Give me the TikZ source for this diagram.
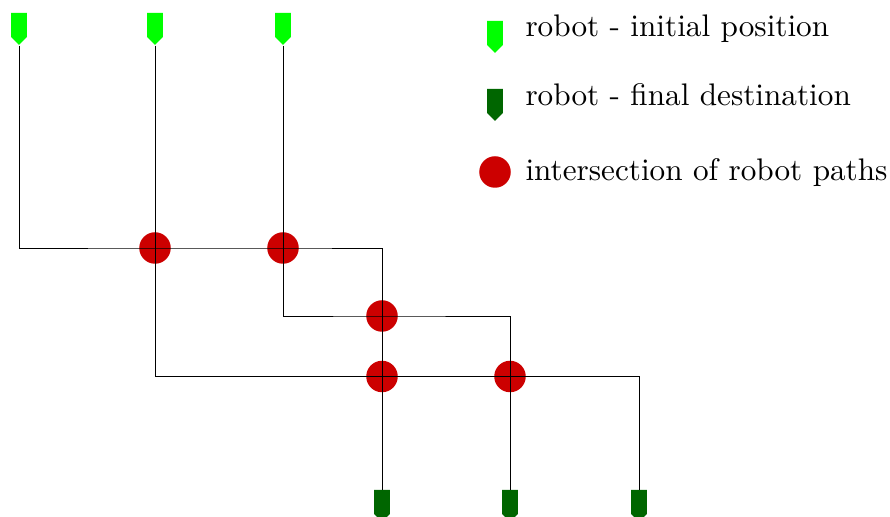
\documentclass[tikz,border=0pt]{standalone}
\usetikzlibrary{positioning,shapes.symbols}

\begin{document}
\begin{tikzpicture}[
x=0.3333pt, y=-0.3333pt,
robotnode/.style={signal, signal to=south, signal pointer angle=90, inner sep=0pt, minimum width=5.3pt, minimum height=8pt},
startnode/.style={robotnode, fill={rgb,255:red,0;green,255;blue,0}},
goalnode/.style={robotnode, fill={rgb,255:red,0;green,102;blue,0}},
crossnode/.style={circle, inner sep=0pt, minimum size=10.5pt, fill={rgb,255:red,204;green,0;blue,0}},
legendtext/.style={anchor=base west, inner sep=0pt, scale=1.04},
line width=0.32pt]
\useasboundingbox (0,0) rectangle (890,517);
% Nodes
\node[startnode] (s1) at (19,25) {};
\node[startnode] (s2) at (155,25) {};
\node[startnode] (s3) at (283,25) {};
\node[goalnode] (g1) at (382,502) {};
\node[goalnode] (g2) at (510,502) {};
\node[goalnode] (g3) at (639,502) {};
\node[crossnode] (c1) at (155,248) {};
\node[crossnode] (c2) at (283,248) {};
\node[crossnode] (c3) at (382,316) {};
\node[crossnode] (c4) at (382,376.5) {};
\node[crossnode] (c5) at (510,376.5) {};
% Legend
\node[startnode] (l1) at (495,33) {};
\node[goalnode] (l2) at (495,101) {};
\node[crossnode] (l3) at (495,172) {};
\node[legendtext] (t1) at (525,37) {robot - initial position};
\node[legendtext] (t2) at (525,105.5) {robot - final destination};
\node[legendtext] (t3) at (525,181) {intersection of robot paths};
% Lines
\draw (s1) |- (c1.center) -- (c2.center) -| (g1);
\draw (s2) |- (c4.center) -- (c5.center) -| (g3);
\draw (s3) |- (c3.center) -| (g2);
\end{tikzpicture}
\end{document}
